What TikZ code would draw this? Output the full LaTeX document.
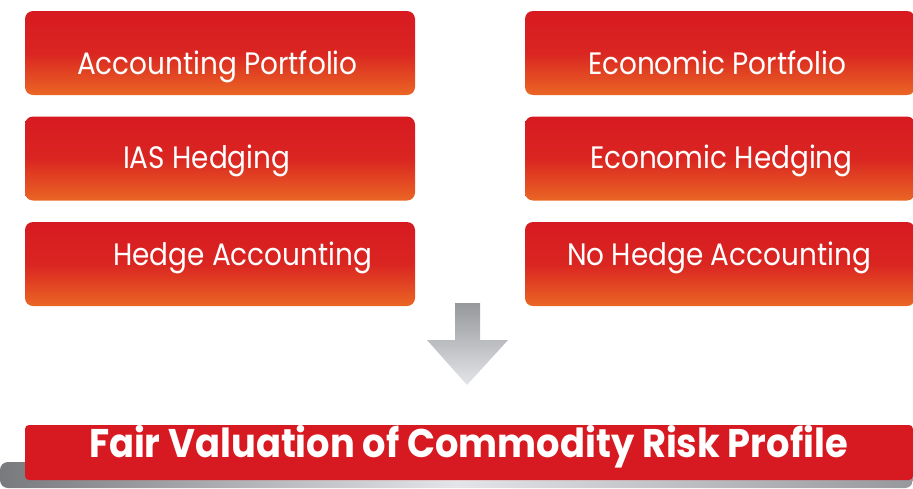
\documentclass[tikz,border=0pt]{standalone}
\usepackage{fontspec}
\setmainfont{Poppins}
\newfontfamily\boxfont[FakeStretch=0.9]{Poppins}
\newfontfamily\barfont[FakeStretch=0.92]{Poppins}
\usetikzlibrary{positioning}
\definecolor{boxred}{RGB}{215,26,33}
\definecolor{boxorange}{RGB}{234,102,36}
\definecolor{arrowgray}{RGB}{150,152,156}
\definecolor{arrowlight}{RGB}{228,229,232}
\tikzset{
  redbox/.style = {rounded corners=8pt, minimum width=390pt, minimum height=84pt,
                   top color=boxred, bottom color=boxorange, middle color=boxred!85!boxorange,
                   inner sep=0pt},
  boxtext/.style = {text=white, font=\boxfont\fontsize{31}{34}\selectfont,
                    inner sep=0pt, anchor=base west}
}
\begin{document}
\begin{tikzpicture}[x=1pt, y=-1pt]
\useasboundingbox (0,0) rectangle (913,488);
% left column
\node[redbox] (accport) at (220,53) {};
\node[redbox] (iashedge) at (220,158.5) {};
\node[redbox] (hedgeacc) at (220,264) {};
% right column
\node[redbox] (ecoport) at (720,53) {};
\node[redbox] (ecohedge) at (720,158.5) {};
\node[redbox] (nohedge) at (720,264) {};
%
\node[boxtext] at ([xshift=52pt, yshift=-21pt]accport.west) {Accounting Portfolio};
\node[boxtext] at ([xshift=98pt, yshift=-9.5pt]iashedge.west) {IAS Hedging};
\node[boxtext] at ([xshift=88pt, yshift=-1pt]hedgeacc.west) {Hedge Accounting};
\node[boxtext] at ([xshift=63pt, yshift=-21pt]ecoport.west) {Economic Portfolio};
\node[boxtext] at ([xshift=65pt, yshift=-9.5pt]ecohedge.west) {Economic Hedging};
\node[boxtext] at ([xshift=42pt, yshift=-1pt]nohedge.west) {No Hedge Accounting};
% arrow down
\shade[top color=arrowgray, bottom color=arrowlight]
  (455,303) -- (480,303) -- (480,340) -- (508,340) -- (467,385)
  -- (427,340) -- (455,340) -- cycle;
% base bar
\shade[left color=arrowgray!80!black, right color=arrowgray, middle color=arrowlight,
       rounded corners=8pt] (0,488) -- (0,462) -- (913,462) -- (913,488) -- cycle;
\node[fill=boxred, rounded corners=4pt, minimum width=888pt, minimum height=55pt,
      inner sep=0pt] (fairval) at (469,452.5) {};
\node[text=white, font=\barfont\bfseries\fontsize{40}{42}\selectfont, inner sep=0pt,
      anchor=base west] at ([xshift=64pt, yshift=-4.5pt]fairval.west)
  {Fair Valuation of Commodity Risk Profile};
\end{tikzpicture}
\end{document}
